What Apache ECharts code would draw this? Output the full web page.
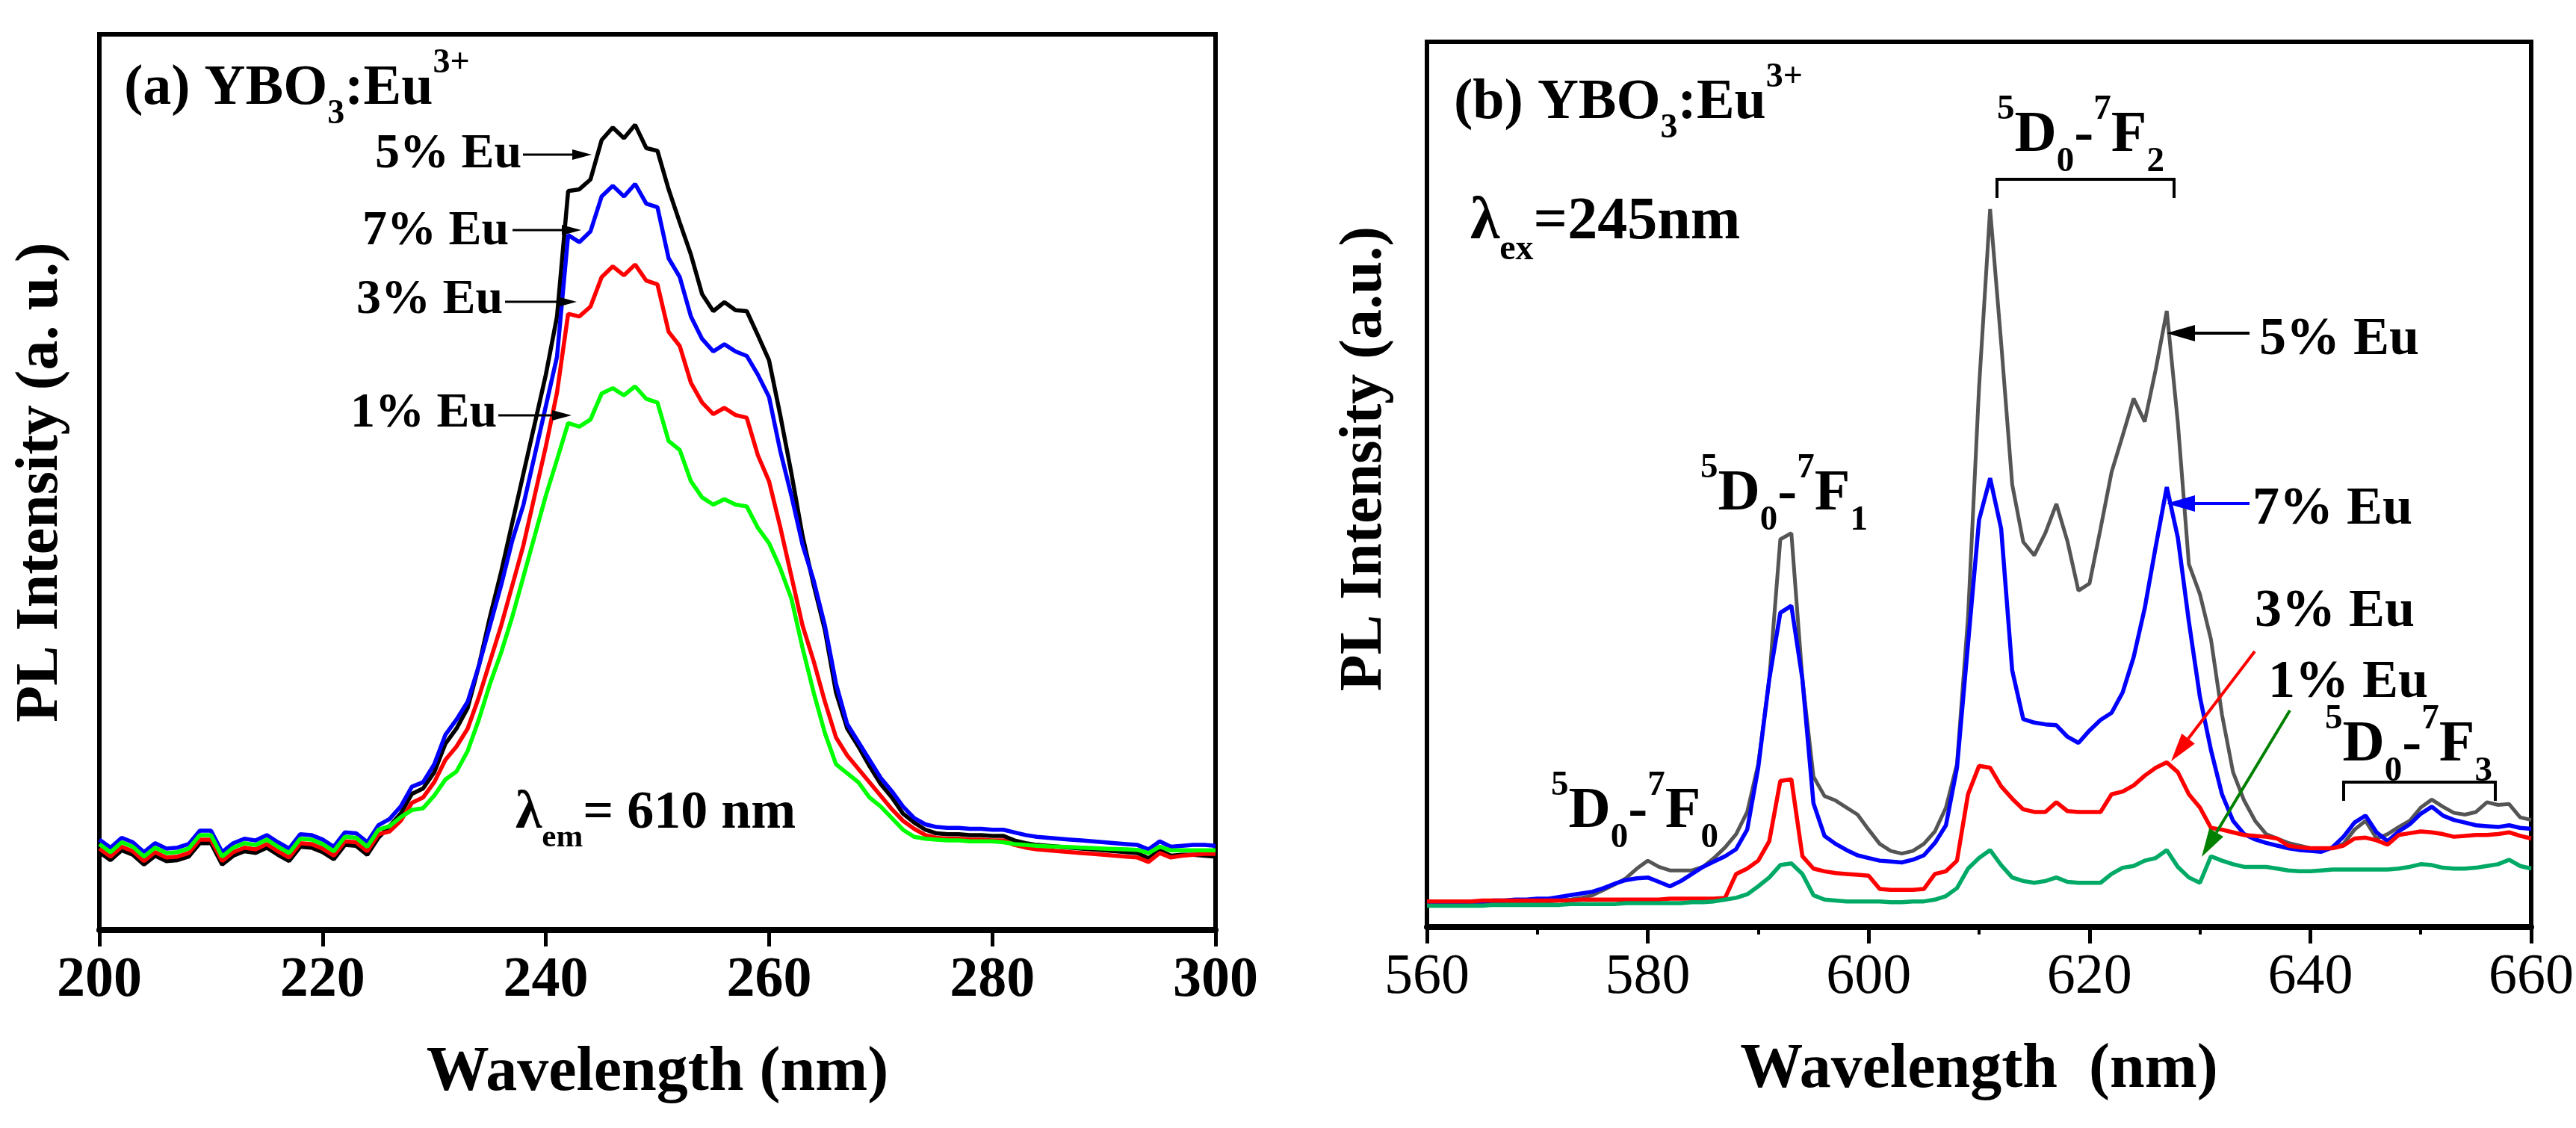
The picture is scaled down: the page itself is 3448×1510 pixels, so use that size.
<!DOCTYPE html>
<html><head><meta charset="utf-8">
<script src="https://cdn.jsdelivr.net/npm/echarts@6/dist/echarts.min.js"></script>
<style>html,body{margin:0;padding:0;background:#fff}#c{width:3448px;height:1510px}</style>
</head><body><div id="c"></div>
<script>
// ---------- DATA ----------
const wlA = [200,201,202,203,204,205,206,207,208,209,210,211,212,213,214,215,216,217,218,219,220,221,222,223,224,225,226,227,228,229,230,231,232,233,234,235,236,237,238,239,240,241,242,243,244,245,246,247,248,249,250,251,252,253,254,255,256,257,258,259,260,261,262,263,264,265,266,267,268,269,270,271,272,273,274,275,276,277,278,279,280,281,282,283,284,285,286,287,288,289,290,291,292,293,294,295,296,297,298,299,300];
const eu5A = [8.7,7.8,8.9,8.4,7.3,8.3,7.7,7.8,8.2,9.7,9.7,7.3,8.3,8.8,8.6,9.2,8.4,7.7,9.3,9.2,8.7,7.9,9.5,9.4,8.4,10.3,
 11.6,13.0,15.2,15.8,17.6,20.8,22.5,24.8,29.5,35.0,40.0,45.5,51.0,56.5,62.0,68.5,82.5,82.7,83.8,88.2,89.6,88.4,89.9,87.3,87.0,82.7,79.0,75.4,71.0,69.1,
 70.1,69.2,69.1,66.4,63.6,57.5,51.0,44.0,38.5,33.5,26.5,22.5,20.5,18.3,16.3,14.8,13.0,12.0,11.2,10.8,10.7,10.7,10.6,10.6,10.5,10.5,10.0,9.7,9.5,9.4,
 9.3,9.2,9.1,9.0,8.9,8.8,8.7,8.6,8.0,8.9,8.3,8.4,8.4,8.3,8.2];
const eu7A = [10.1,9.2,10.3,9.8,8.7,9.7,9.1,9.2,9.6,11.1,11.1,8.7,9.7,10.2,10.0,10.6,9.8,9.1,10.7,10.6,10.1,9.3,10.9,10.8,9.8,11.7,
 12.4,13.8,16.0,16.5,18.5,21.8,23.5,25.5,29.5,34.0,38.5,43.5,47.5,53.0,58.5,64.0,77.6,76.8,78.0,81.9,83.1,81.9,83.3,81.1,80.7,75.0,72.9,68.5,66.0,64.6,
 65.4,64.6,64.1,62.0,59.5,53.5,48.5,43.0,39.0,34.0,27.5,23.0,21.0,19.0,17.0,15.5,13.8,12.5,11.8,11.5,11.4,11.4,11.3,11.3,11.2,11.2,10.9,10.6,10.4,10.3,
 10.2,10.1,10.0,9.9,9.8,9.7,9.6,9.5,9.0,9.9,9.3,9.4,9.5,9.5,9.4];
const eu3A = [9.1,8.2,9.3,8.8,7.7,8.7,8.1,8.2,8.6,10.1,10.1,7.7,8.7,9.2,9.0,9.6,8.8,8.1,9.7,9.6,9.1,8.3,9.9,9.8,8.8,10.7,
 11.0,12.2,14.2,14.8,16.5,19.0,20.5,22.5,26.0,30.0,34.0,38.5,43.0,48.5,54.0,60.0,68.8,68.5,69.6,72.9,74.1,73.1,74.3,72.5,72.1,66.8,65.2,61.1,58.9,57.6,
 58.3,57.5,57.2,53.0,50.1,45.0,39.5,34.0,30.0,25.5,21.5,19.5,18.0,16.5,15.0,13.5,12.2,11.3,10.6,10.3,10.2,10.2,10.1,10.1,10.0,10.0,9.5,9.2,9.0,8.9,
 8.8,8.7,8.6,8.5,8.4,8.3,8.2,8.1,7.6,8.6,8.1,8.3,8.4,8.5,8.5];
const eu1A = [9.6,8.7,9.8,9.3,8.2,9.2,8.6,8.7,9.1,10.6,10.6,8.2,9.2,9.7,9.5,10.1,9.3,8.6,10.2,10.1,9.6,8.8,10.4,10.3,9.3,11.2,
 11.6,12.6,13.4,13.6,15.0,16.8,17.7,20.0,23.5,27.5,31.0,35.0,39.5,44.0,48.5,52.5,56.6,56.2,57.0,59.9,60.5,59.7,60.7,59.3,58.9,54.6,53.6,50.1,48.3,47.5,
 48.1,47.5,47.3,44.9,43.2,40.4,37.0,31.5,26.5,22.0,18.5,17.5,16.5,14.8,13.8,12.5,11.2,10.4,10.2,10.1,10.0,10.0,9.9,9.9,9.9,9.8,9.6,9.5,9.4,9.35,
 9.3,9.25,9.2,9.15,9.1,9.05,9.0,8.95,8.6,9.3,8.9,8.9,8.9,8.9,8.9];

const wlB = [560,561,562,563,564,565,566,567,568,569,570,571,572,573,574,575,576,577,578,579,580,581,582,583,584,585,586,587,588,589,590,591,592,593,594,595,596,597,598,599,600,601,602,603,604,605,606,607,608,609,610,611,612,613,614,615,616,617,618,619,620,621,622,623,624,625,626,627,628,629,630,631,632,633,634,635,636,637,638,639,640,641,642,643,644,645,646,647,648,649,650,651,652,653,654,655,656,657,658,659,660];
const eu5B = [2.8,2.8,2.8,2.8,2.8,2.8,2.8,2.8,2.9,2.9, 2.9,2.9,3.0,3.1,3.3,3.6,4.2,4.8,5.5,6.6,
 7.5,6.8,6.4,6.4,6.4,6.8,7.8,9.0,10.5,13.0, 18.4,28.0,43.8,44.5,28.0,17.0,14.8,14.3,13.5,12.7,
 11.0,9.4,8.6,8.3,8.6,9.4,10.8,13.5,18.4,35.0, 61.0,81.1,66.0,50.0,43.5,42.0,44.5,47.8,43.6,38.0,
 38.8,45.0,51.4,55.5,59.7,57.1,63.0,69.6,57.0,41.0, 37.6,32.5,24.0,17.5,14.3,12.0,10.5,10.0,9.5,9.2,
 8.9,8.9,8.9,9.4,11.0,12.0,10.0,10.5,11.3,12.0, 13.5,14.4,13.6,12.9,12.7,13.0,14.1,13.8,13.9,12.4, 12.1];
const eu7B = [2.8,2.8,2.8,2.8,2.9,2.9,3.0,3.0,3.1,3.1, 3.2,3.2,3.4,3.6,3.8,4.0,4.4,4.9,5.3,5.5,
 5.6,5.1,4.6,5.2,6.0,6.8,7.4,8.0,8.8,11.0, 18.0,28.0,35.5,36.3,28.0,14.0,10.3,9.4,8.7,8.1,
 7.8,7.5,7.4,7.3,7.6,8.1,9.5,11.5,18.0,32.0, 46.0,50.7,45.0,29.0,23.5,23.1,22.9,22.8,21.5,20.8,
 22.2,23.4,24.2,26.5,30.5,36.0,43.0,49.7,44.0,34.5, 26.0,20.0,15.0,12.0,10.5,9.9,9.5,9.2,8.9,8.7,
 8.6,8.5,9.0,10.2,11.8,12.6,10.7,9.7,10.8,11.6, 12.8,13.6,12.6,12.1,11.8,11.5,11.4,11.3,11.5,11.2, 11.1];
const eu3B = [2.9,2.9,2.9,2.9,2.9,3.0,3.0,3.0,3.0,3.0, 3.0,3.0,3.0,3.0,3.1,3.1,3.1,3.1,3.1,3.1,
 3.1,3.1,3.2,3.2,3.2,3.2,3.2,3.3,6.0,6.6, 7.5,9.7,16.5,16.7,8.0,6.6,6.3,6.1,6.0,5.9,
 5.8,4.3,4.2,4.2,4.2,4.3,6.0,6.3,7.5,15.0, 18.2,18.0,15.9,14.5,13.3,13.0,13.0,14.1,13.1,13.0,
 13.0,13.0,15.0,15.3,16.0,17.1,18.0,18.6,17.5,15.0, 13.5,11.2,11.0,10.7,10.4,10.3,10.2,10.0,9.2,9.0,
 8.9,8.9,8.9,9.2,10.0,10.1,9.8,9.3,10.4,10.6, 10.8,10.7,10.5,10.2,10.3,10.4,10.4,10.5,10.7,10.3, 10.0];
const eu1B = [2.4,2.4,2.4,2.4,2.4,2.4,2.5,2.5,2.5,2.5, 2.5,2.5,2.5,2.6,2.6,2.6,2.6,2.6,2.7,2.7,
 2.7,2.7,2.7,2.7,2.8,2.8,2.9,3.1,3.3,3.7, 4.6,5.6,7.0,7.2,6.0,3.6,3.1,3.0,2.9,2.9,
 2.9,2.9,2.8,2.8,2.9,2.9,3.1,3.5,4.4,6.6, 7.8,8.7,7.0,5.6,5.2,5.0,5.2,5.6,5.1,5.0,
 5.0,5.0,6.0,6.7,6.9,7.5,7.8,8.7,6.8,5.6, 5.0,8.0,7.5,7.1,6.8,6.8,6.8,6.6,6.4,6.3,
 6.3,6.4,6.5,6.5,6.5,6.5,6.5,6.5,6.6,6.8, 7.1,7.0,6.7,6.6,6.6,6.7,6.9,7.1,7.6,6.9, 6.6];

const ticksA = [200,220,240,260,280,300];
const ticksB = [560,580,600,620,640,660];
const seriesNamesA = ['5% Eu','7% Eu','3% Eu','1% Eu'];
const seriesNamesB = ['5% Eu','7% Eu','3% Eu','1% Eu'];

// ---------- CHART ----------
const F = "'Liberation Serif','Times New Roman',serif";
const chart = echarts.init(document.getElementById('c'));
const pairs = (xs, ys) => xs.map((x, i) => [x, ys[i]]);

function xAxisCfg(idx, min, max, bold, minor, name) {
  return {
    gridIndex: idx, type: 'value', min: min, max: max, interval: 20,
    name: name, nameLocation: 'middle', nameGap: 150,
    nameTextStyle: {fontFamily: F, fontWeight: 'bold', fontSize: 84, color: '#000'},
    axisLine: {show: true, onZero: false, lineStyle: {color: '#000', width: 8}},
    axisTick: {show: true, inside: false, length: 22, lineStyle: {color: '#000', width: 5}},
    minorTick: {show: minor, splitNumber: 2, length: 10, lineStyle: {color: '#000', width: 4}},
    splitLine: {show: false},
    axisLabel: {fontFamily: F, fontWeight: bold ? 'bold' : 'normal', fontSize: 76, color: '#000', margin: 30}
  };
}
function yAxisCfg(idx, name, gap) {
  return {
    gridIndex: idx, type: 'value', min: 0, max: 100,
    name: name, nameLocation: 'middle', nameGap: gap,
    nameTextStyle: {fontFamily: F, fontWeight: 'bold', fontSize: 80, color: '#000'},
    axisLine: {show: false}, axisTick: {show: false}, axisLabel: {show: false}, splitLine: {show: false}
  };
}
function line(name, xi, data, color, w, z) {
  return {name: name, type: 'line', xAxisIndex: xi, yAxisIndex: xi, data: data, showSymbol: false,
    symbol: 'none', lineStyle: {color: color, width: w}, itemStyle: {color: color}, z: z, animation: false};
}

// ---------- annotations (rich text with sub/superscripts) ----------
function label(x, base, parts, size, color) {
  const LH = Math.round(size * 1.5), s = Math.round(size * 0.6);
  const rich = {
    m: {fontFamily: F, fontWeight: 'bold', fontSize: size, lineHeight: LH, fill: color, color: color},
    b: {fontFamily: F, fontWeight: 'bold', fontSize: s, verticalAlign: 'bottom', fill: color, color: color},
    t: {fontFamily: F, fontWeight: 'bold', fontSize: s, verticalAlign: 'top', fill: color, color: color}
  };
  const text = parts.map(p => '{' + p[0] + '|' + p[1] + '}').join('');
  return {type: 'text', x: x, y: base - (LH / 2 + 0.33 * size), z: 100,
    style: {text: text, rich: rich, fill: color, align: 'left', verticalAlign: 'top', font: 'bold ' + size + 'px ' + F}};
}
function arrow(x1, y1, x2, y2, color, w, hl, hw) {
  const a = Math.atan2(y2 - y1, x2 - x1), c = Math.cos(a), s = Math.sin(a);
  const bx = x2 - hl * c, by = y2 - hl * s;
  return [
    {type: 'line', z: 100, shape: {x1: x1, y1: y1, x2: bx, y2: by}, style: {stroke: color, lineWidth: w}},
    {type: 'polygon', z: 100, shape: {points: [[x2, y2], [bx - hw / 2 * s, by + hw / 2 * c], [bx + hw / 2 * s, by - hw / 2 * c]]}, style: {fill: color}}
  ];
}
function bracket(x1, x2, y, yl) {
  return {type: 'polyline', z: 100, shape: {points: [[x1, yl], [x1, y], [x2, y], [x2, yl]]}, style: {stroke: '#000', lineWidth: 4, fill: null}};
}
const D = (a, b) => [['t', '5'], ['m', 'D'], ['b', '0'], ['m', '-'], ['t', '7'], ['m', 'F'], ['b', b]];

const graphics = [
  label(166, 144, [['m', '(a) YBO'], ['b', '3'], ['m', ':Eu'], ['t', '3+']], 76, '#000'),
  label(502, 229, [['m', '5% Eu']], 66, '#000'),
  label(485, 332, [['m', '7% Eu']], 66, '#000'),
  label(477, 424, [['m', '3% Eu']], 66, '#000'),
  label(469, 576, [['m', '1% Eu']], 66, '#000'),
  label(690, 1113, [['m', 'λ'], ['b', 'em'], ['m', '= 610 nm']], 72, '#000'),
  ...arrow(700, 207, 792, 207, '#000', 3, 26, 14),
  ...arrow(686, 308, 778, 308, '#000', 3, 26, 14),
  ...arrow(676, 404, 772, 404, '#000', 3, 26, 14),
  ...arrow(667, 556, 765, 556, '#000', 3, 26, 14),

  {type: 'text', x: 1827, y: 614, rotation: Math.PI / 2, z: 100,
   style: {text: 'PL Intensity (a.u.)', fill: '#000', align: 'center', verticalAlign: 'middle', font: 'bold 80px ' + F}},
  label(1946, 163, [['m', '(b) YBO'], ['b', '3'], ['m', ':Eu'], ['t', '3+']], 76, '#000'),
  label(1968, 325, [['m', 'λ'], ['b', 'ex'], ['m', '=245nm']], 80, '#000'),
  label(2673, 208, D('0', '2'), 78, '#000'),
  label(2276, 688, D('0', '1'), 78, '#000'),
  label(2076, 1113, D('0', '0'), 78, '#000'),
  label(3112, 1024, D('0', '3'), 78, '#000'),
  bracket(2673, 2910, 240, 265),
  bracket(3137, 3340, 1047, 1072),
  label(3024, 479, [['m', '5% Eu']], 72, '#000'),
  label(3015, 706, [['m', '7% Eu']], 72, '#000'),
  label(3018, 843, [['m', '3% Eu']], 72, '#000'),
  label(3036, 938, [['m', '1% Eu']], 72, '#000'),
  ...arrow(3011, 446, 2900, 446, '#000', 4, 38, 22),
  ...arrow(3011, 674, 2900, 674, '#0000ff', 4, 38, 22),
  ...arrow(3018, 872, 2906, 1019, '#ff0000', 4, 38, 22),
  ...arrow(3065, 951, 2947, 1147, '#008000', 4, 38, 22)
];

chart.setOption({
  animation: false,
  backgroundColor: '#fff',
  grid: [
    {left: 133, top: 46, width: 1494, height: 1199, show: true, borderColor: '#000', borderWidth: 6},
    {left: 1910, top: 56, width: 1478, height: 1185, show: true, borderColor: '#000', borderWidth: 6}
  ],
  xAxis: [xAxisCfg(0, 200, 300, true, false, 'Wavelength (nm)'), xAxisCfg(1, 560, 660, false, true, 'Wavelength  (nm)')],
  yAxis: [yAxisCfg(0, 'PL Intensity (a. u.)', 38), yAxisCfg(1, '', 42)],
  series: [
    line(seriesNamesA[0], 0, pairs(wlA, eu5A), '#000000', 5.5, 2),
    line(seriesNamesA[1], 0, pairs(wlA, eu7A), '#0000ff', 5.5, 3),
    line(seriesNamesA[2], 0, pairs(wlA, eu3A), '#ff0000', 5.5, 4),
    line(seriesNamesA[3], 0, pairs(wlA, eu1A), '#00ff00', 5.5, 5),
    line(seriesNamesB[0], 1, pairs(wlB, eu5B), '#555555', 5, 2),
    line(seriesNamesB[1], 1, pairs(wlB, eu7B), '#0000ff', 5.5, 3),
    line(seriesNamesB[2], 1, pairs(wlB, eu3B), '#ff0000', 5.5, 4),
    line(seriesNamesB[3], 1, pairs(wlB, eu1B), '#00aa66', 5.5, 5)
  ],
  graphic: graphics
});
</script></body></html>
